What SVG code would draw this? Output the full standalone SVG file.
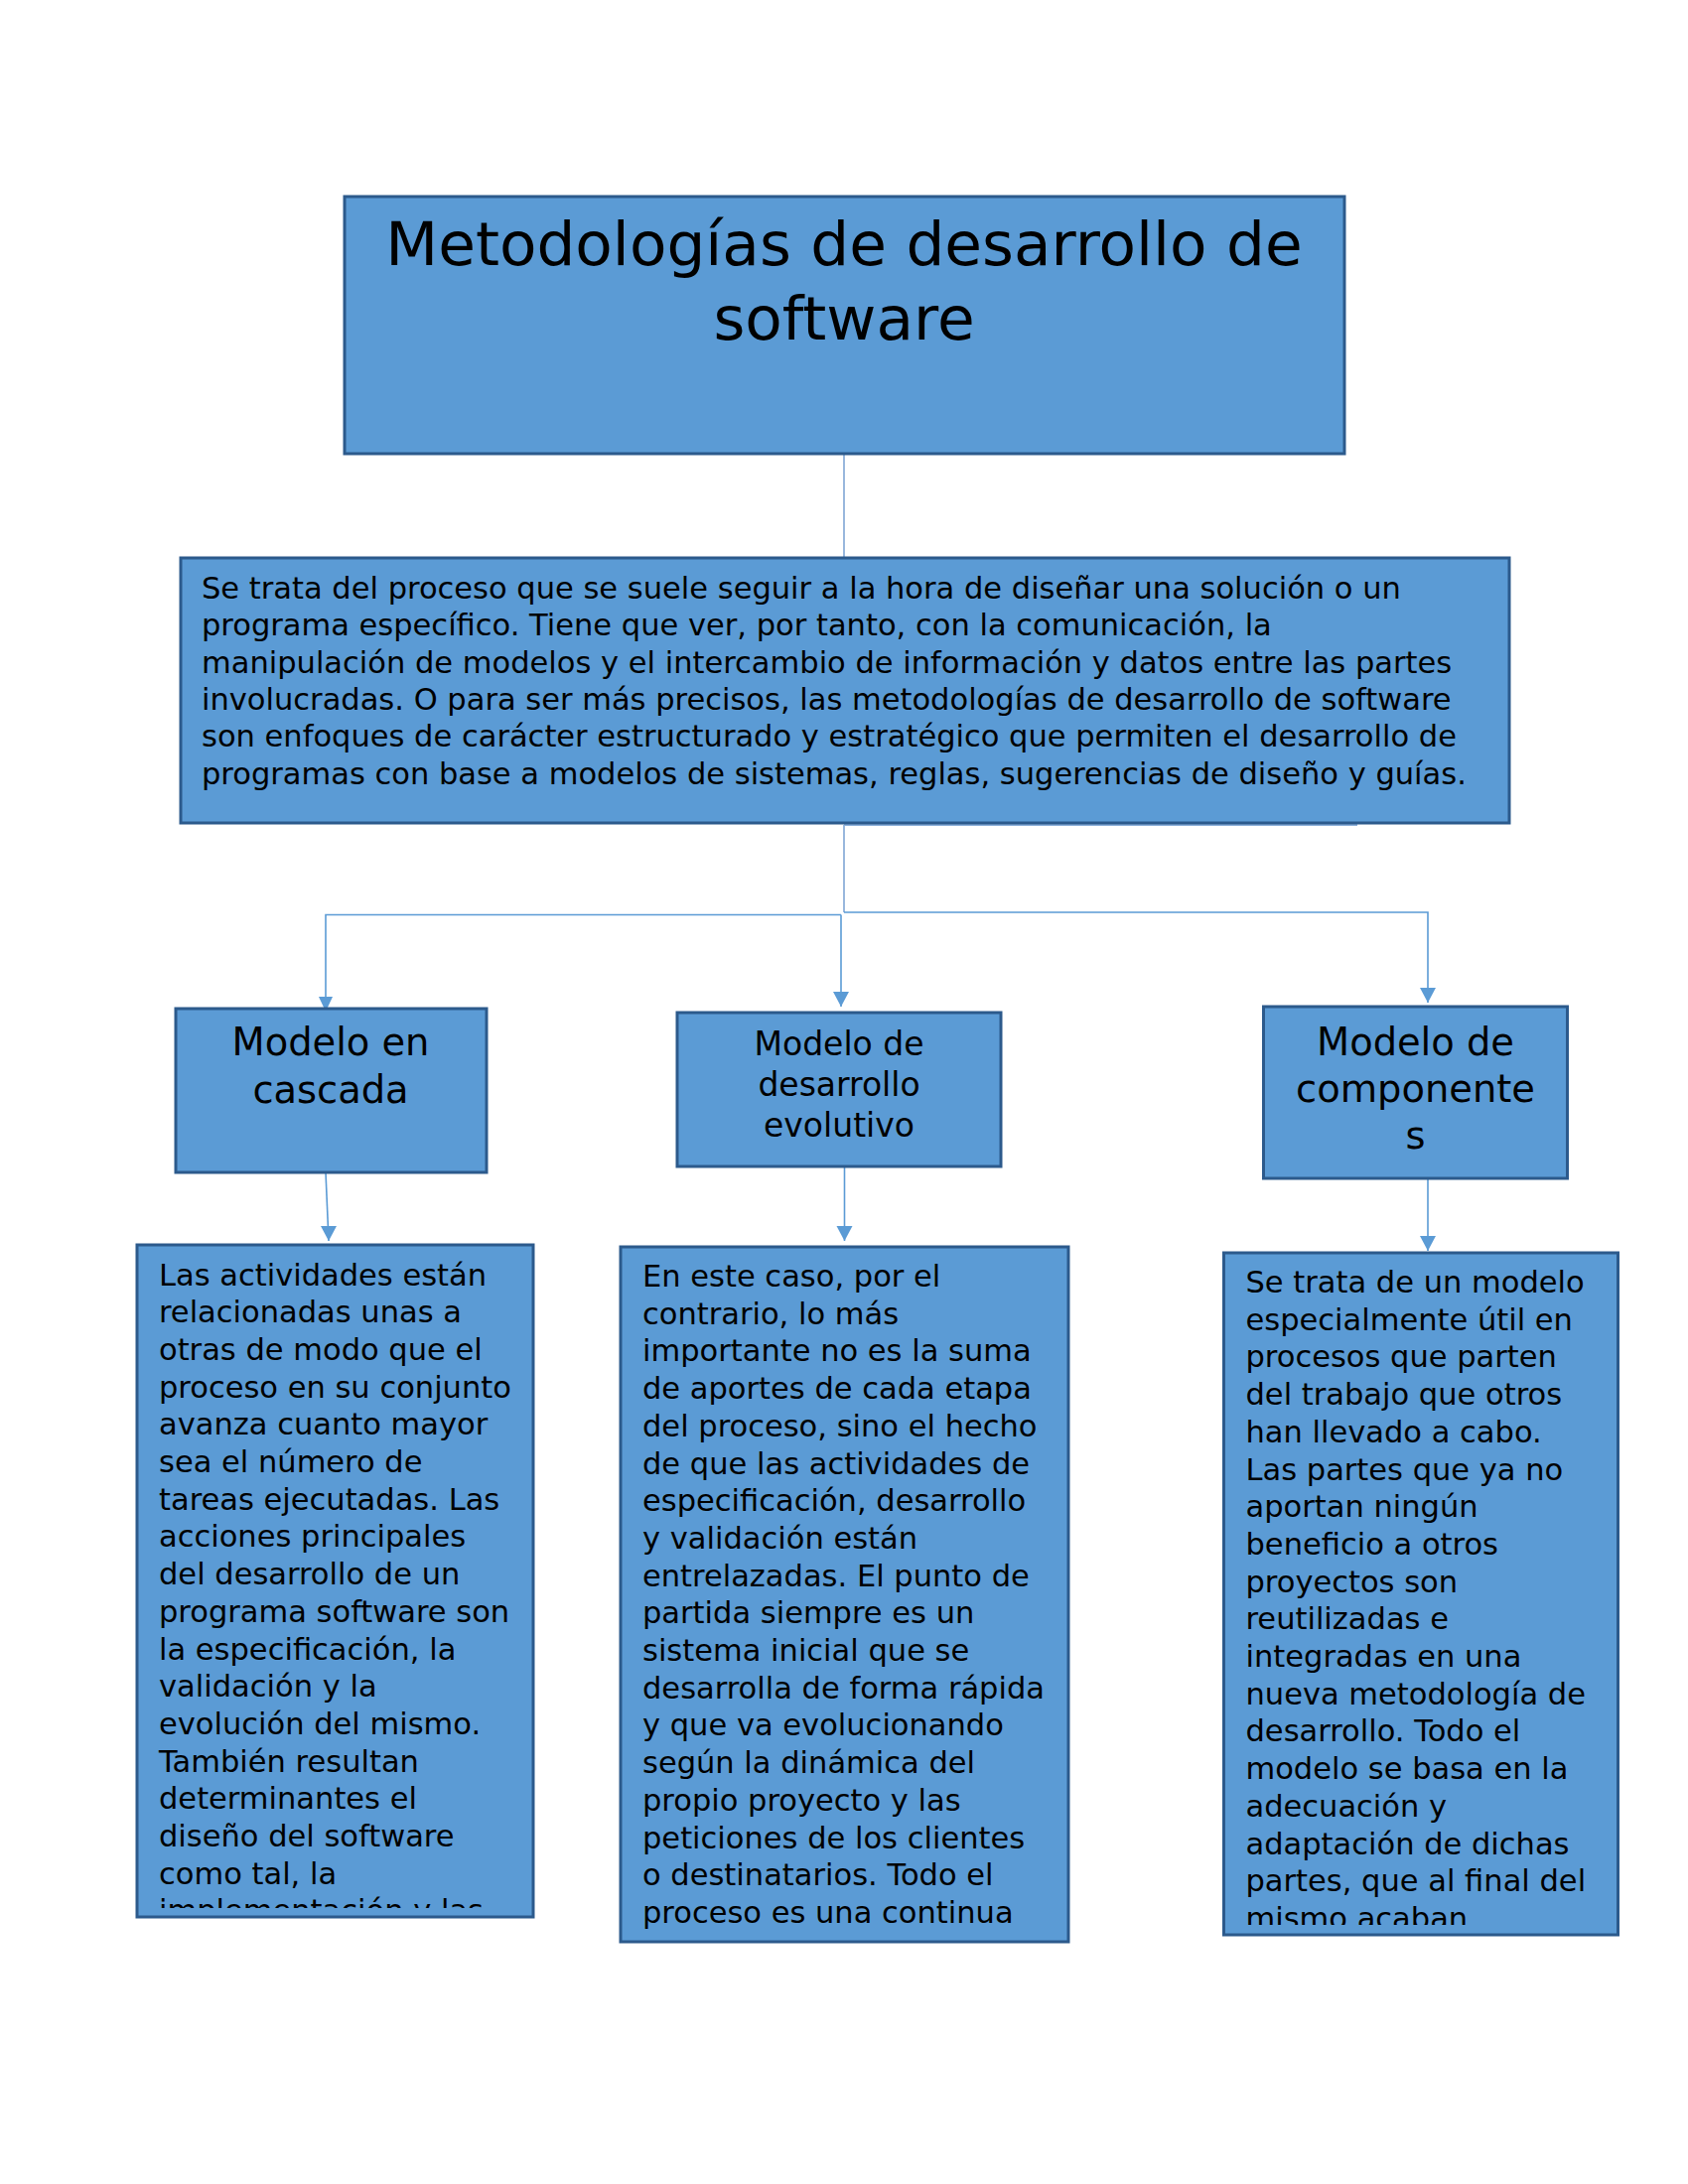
<svg xmlns="http://www.w3.org/2000/svg" width="1700" height="2200" viewBox="0 0 1700 2200">
<style>
.box{fill:#5B9BD5;stroke:#2C5A8C;stroke-width:3}
.t{font-family:"DejaVu Sans","Verdana",sans-serif;fill:#000}
.c{text-anchor:middle}
.ln{fill:none;stroke:#5B9BD5;stroke-width:1.6}
.lt{fill:none;stroke:#8DB0DA;stroke-width:1.8}
</style>
<defs>
<clipPath id="c1"><rect x="137" y="1254" width="401" height="668"/></clipPath>
<clipPath id="c3"><rect x="1233" y="1262" width="398" height="677"/></clipPath>
</defs>
<rect width="1700" height="2200" fill="#fff"/>
<g id="connectors">
<path class="lt" d="M850,457 V562"/>
<path class="lt" d="M850,831 H1367"/>
<path class="lt" d="M850,831 V919"/>
<path class="ln" d="M847,921.5 H328 V1017"/>
<path class="ln" d="M847,921.5 V1014"/>
<path class="ln" d="M850,919 H1438 V1010"/>
<path class="ln" d="M328,1181 L331,1250"/>
<path class="ln" d="M850.5,1175 V1250"/>
<path class="ln" d="M1438,1187 V1260"/>
</g>
<g id="arrowheads" fill="#5B9BD5">
<path d="M321,1004 L335,1004 L328,1019 Z"/>
<path d="M839,999 L855,999 L847,1014 Z"/>
<path d="M1430,995 L1446,995 L1438,1010 Z"/>
<path d="M323,1235 L339,1235 L331,1250 Z"/>
<path d="M842.5,1235 L858.5,1235 L850.5,1250 Z"/>
<path d="M1430,1245 L1446,1245 L1438,1260 Z"/>
</g>
<g id="title">
<rect class="box" x="347" y="198" width="1007" height="259"/>
<text class="t c" font-size="61.3" x="850" y="267">Metodologías de desarrollo de</text>
<text class="t c" font-size="61.3" x="850" y="342">software</text>
</g>
<g id="descripcion">
<rect class="box" x="182" y="562" width="1338" height="267"/>
<text class="t" font-size="30.5" x="203">
<tspan x="203" y="603">Se trata del proceso que se suele seguir a la hora de diseñar una solución o un</tspan>
<tspan x="203" y="640.3">programa específico. Tiene que ver, por tanto, con la comunicación, la</tspan>
<tspan x="203" y="677.6">manipulación de modelos y el intercambio de información y datos entre las partes</tspan>
<tspan x="203" y="714.9">involucradas. O para ser más precisos, las metodologías de desarrollo de software</tspan>
<tspan x="203" y="752.2">son enfoques de carácter estructurado y estratégico que permiten el desarrollo de</tspan>
<tspan x="203" y="789.5">programas con base a modelos de sistemas, reglas, sugerencias de diseño y guías.</tspan>
</text>
</g>
<g id="cascada">
<rect class="box" x="177" y="1016" width="313" height="165"/>
<text class="t c" font-size="38.4" x="333" y="1063">Modelo en</text>
<text class="t c" font-size="38.4" x="333" y="1110.5">cascada</text>
</g>
<g id="evolutivo">
<rect class="box" x="682" y="1020" width="326" height="155"/>
<text class="t c" font-size="33" x="845" y="1063">Modelo de</text>
<text class="t c" font-size="33" x="845" y="1104">desarrollo</text>
<text class="t c" font-size="33" x="845" y="1145">evolutivo</text>
</g>
<g id="componentes">
<rect class="box" x="1272.5" y="1014" width="306" height="173"/>
<text class="t c" font-size="38.4" x="1425.5" y="1062.7">Modelo de</text>
<text class="t c" font-size="38.4" x="1425.5" y="1110">componente</text>
<text class="t c" font-size="38.4" x="1425.5" y="1157.3">s</text>
</g>
<g id="cascada-desc">
<rect class="box" x="138" y="1254" width="399" height="677"/>
<text class="t" font-size="30.5" clip-path="url(#c1)">
<tspan x="160" y="1294.5">Las actividades están</tspan>
<tspan x="160" y="1332.2">relacionadas unas a</tspan>
<tspan x="160" y="1369.9">otras de modo que el</tspan>
<tspan x="160" y="1407.6">proceso en su conjunto</tspan>
<tspan x="160" y="1445.3">avanza cuanto mayor</tspan>
<tspan x="160" y="1483">sea el número de</tspan>
<tspan x="160" y="1520.7">tareas ejecutadas. Las</tspan>
<tspan x="160" y="1558.4">acciones principales</tspan>
<tspan x="160" y="1596.1">del desarrollo de un</tspan>
<tspan x="160" y="1633.8">programa software son</tspan>
<tspan x="160" y="1671.5">la especificación, la</tspan>
<tspan x="160" y="1709.2">validación y la</tspan>
<tspan x="160" y="1746.9">evolución del mismo.</tspan>
<tspan x="160" y="1784.6">También resultan</tspan>
<tspan x="160" y="1822.3">determinantes el</tspan>
<tspan x="160" y="1860">diseño del software</tspan>
<tspan x="160" y="1897.7">como tal, la</tspan>
<tspan x="160" y="1935.4">implementación y las</tspan>
</text>
</g>
<g id="evolutivo-desc">
<rect class="box" x="625" y="1256" width="451" height="700"/>
<text class="t" font-size="30.5">
<tspan x="647" y="1296">En este caso, por el</tspan>
<tspan x="647" y="1333.7">contrario, lo más</tspan>
<tspan x="647" y="1371.4">importante no es la suma</tspan>
<tspan x="647" y="1409.1">de aportes de cada etapa</tspan>
<tspan x="647" y="1446.8">del proceso, sino el hecho</tspan>
<tspan x="647" y="1484.5">de que las actividades de</tspan>
<tspan x="647" y="1522.2">especificación, desarrollo</tspan>
<tspan x="647" y="1559.9">y validación están</tspan>
<tspan x="647" y="1597.6">entrelazadas. El punto de</tspan>
<tspan x="647" y="1635.3">partida siempre es un</tspan>
<tspan x="647" y="1673">sistema inicial que se</tspan>
<tspan x="647" y="1710.7">desarrolla de forma rápida</tspan>
<tspan x="647" y="1748.4">y que va evolucionando</tspan>
<tspan x="647" y="1786.1">según la dinámica del</tspan>
<tspan x="647" y="1823.8">propio proyecto y las</tspan>
<tspan x="647" y="1861.5">peticiones de los clientes</tspan>
<tspan x="647" y="1899.2">o destinatarios. Todo el</tspan>
<tspan x="647" y="1936.9">proceso es una continua</tspan>
</text>
</g>
<g id="componentes-desc">
<rect class="box" x="1232.5" y="1262" width="397" height="687"/>
<text class="t" font-size="30.5" clip-path="url(#c3)">
<tspan x="1254.5" y="1302">Se trata de un modelo</tspan>
<tspan x="1254.5" y="1339.7">especialmente útil en</tspan>
<tspan x="1254.5" y="1377.4">procesos que parten</tspan>
<tspan x="1254.5" y="1415.1">del trabajo que otros</tspan>
<tspan x="1254.5" y="1452.8">han llevado a cabo.</tspan>
<tspan x="1254.5" y="1490.5">Las partes que ya no</tspan>
<tspan x="1254.5" y="1528.2">aportan ningún</tspan>
<tspan x="1254.5" y="1565.9">beneficio a otros</tspan>
<tspan x="1254.5" y="1603.6">proyectos son</tspan>
<tspan x="1254.5" y="1641.3">reutilizadas e</tspan>
<tspan x="1254.5" y="1679">integradas en una</tspan>
<tspan x="1254.5" y="1716.7">nueva metodología de</tspan>
<tspan x="1254.5" y="1754.4">desarrollo. Todo el</tspan>
<tspan x="1254.5" y="1792.1">modelo se basa en la</tspan>
<tspan x="1254.5" y="1829.8">adecuación y</tspan>
<tspan x="1254.5" y="1867.5">adaptación de dichas</tspan>
<tspan x="1254.5" y="1905.2">partes, que al final del</tspan>
<tspan x="1254.5" y="1942.9">mismo acaban</tspan>
</text>
</g>
</svg>
